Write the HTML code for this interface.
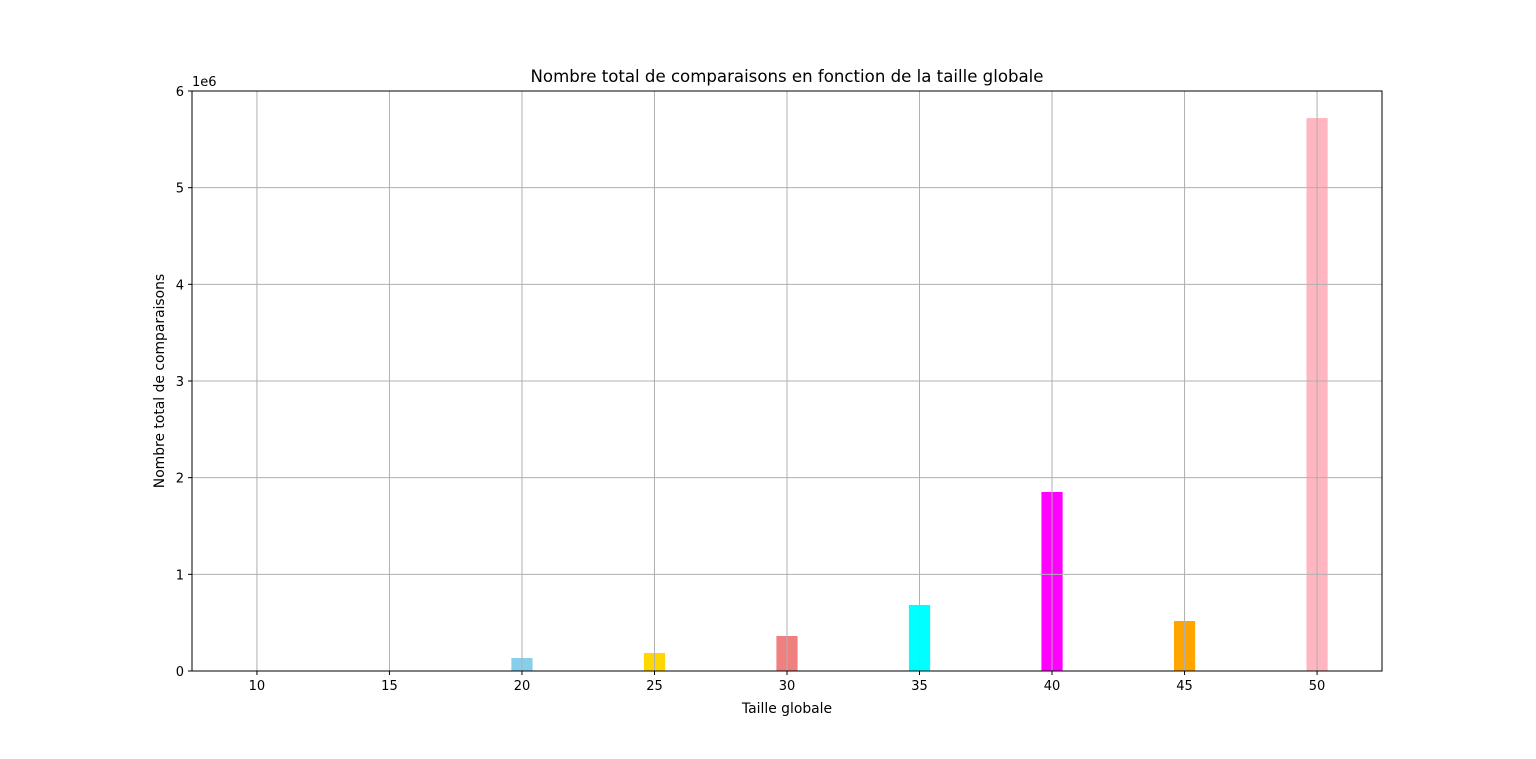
<!DOCTYPE html>
<html><head><meta charset="utf-8"><style>
html,body{margin:0;padding:0;background:#fff;}
svg text{font-family:"DejaVu Sans","Liberation Sans",sans-serif;}
</style></head><body>
<svg id="chart" width="1536" height="754" viewBox="0 0 1536 754">
<rect width="1536" height="754" fill="#fff"/>
<g id="bars"></g>
<g id="grid"></g>
<g id="axes"></g>
</svg>
<script>
const categories=[10,15,20,25,30,35,40,45,50];
const values=[0,0,0.134e6,0.186e6,0.362e6,0.683e6,1.852e6,0.517e6,5.72e6];
const colors=['#87ceeb','#87ceeb','#87ceeb','#ffd700','#f08080','#00ffff','#ff00ff','#ffa500','#ffb6c1'];
const xTicks=[10,15,20,25,30,35,40,45,50];
const yTicks=[0,1,2,3,4,5,6];
const L=192,R=1382,T=91,B=671;
const xMin=7.55,xMax=52.45;
function xs(v){return L+(v-xMin)/(xMax-xMin)*(R-L);}
function ys(v){return B-v/6e6*(B-T);}
const NS='http://www.w3.org/2000/svg';
function mk(tag,attrs,parent,text){const e=document.createElementNS(NS,tag);for(const k in attrs)e.setAttribute(k,attrs[k]);if(text!==undefined)e.textContent=text;parent.appendChild(e);return e;}
const bars=document.getElementById('bars'),grid=document.getElementById('grid'),axes=document.getElementById('axes');
categories.forEach((c,i)=>{
  if(values[i]<=0)return;
  const x0=xs(c-0.4),x1=xs(c+0.4);
  const r=mk('rect',{x:x0,y:ys(values[i]),width:x1-x0,height:B-ys(values[i]),fill:colors[i]},bars);
  
  
});
xTicks.forEach(t=>{
  const x=xs(t);
  mk('line',{x1:x,x2:x,y1:T,y2:B,stroke:'#b0b0b0','stroke-width':1},grid);
  mk('line',{x1:x,x2:x,y1:B,y2:B+4,stroke:'#000','stroke-width':1},axes);
  const tx=mk('text',{x:x,y:B+19,'font-size':13,'text-anchor':'middle',fill:'#000'},axes,String(t));
  
  
});
yTicks.forEach(t=>{
  const y=ys(t*1e6);
  mk('line',{x1:L,x2:R,y1:y,y2:y,stroke:'#b0b0b0','stroke-width':1},grid);
  mk('line',{x1:L-4,x2:L,y1:y,y2:y,stroke:'#000','stroke-width':1},axes);
  const tx=mk('text',{x:L-8,y:y+5,'font-size':13,'text-anchor':'end',fill:'#000'},axes,String(t));
  
  
});
const frame=mk('rect',{x:L,y:T,width:R-L,height:B-T,fill:'none',stroke:'#000','stroke-width':1},axes);


const off=mk('text',{x:L,y:T-5,'font-size':13,fill:'#000'},axes,'1e6');


const title=mk('text',{x:(L+R)/2,y:T-9,'font-size':16.6,'text-anchor':'middle',fill:'#000'},axes,'Nombre total de comparaisons en fonction de la taille globale');


const xl=mk('text',{x:(L+R)/2,y:B+42,'font-size':13.9,'text-anchor':'middle',fill:'#000'},axes,'Taille globale');


const yl=mk('text',{x:0,y:0,'font-size':13.9,'text-anchor':'middle',fill:'#000',transform:'translate(164,'+((T+B)/2)+') rotate(-90)'},axes,'Nombre total de comparaisons');


</script>
</body></html>
